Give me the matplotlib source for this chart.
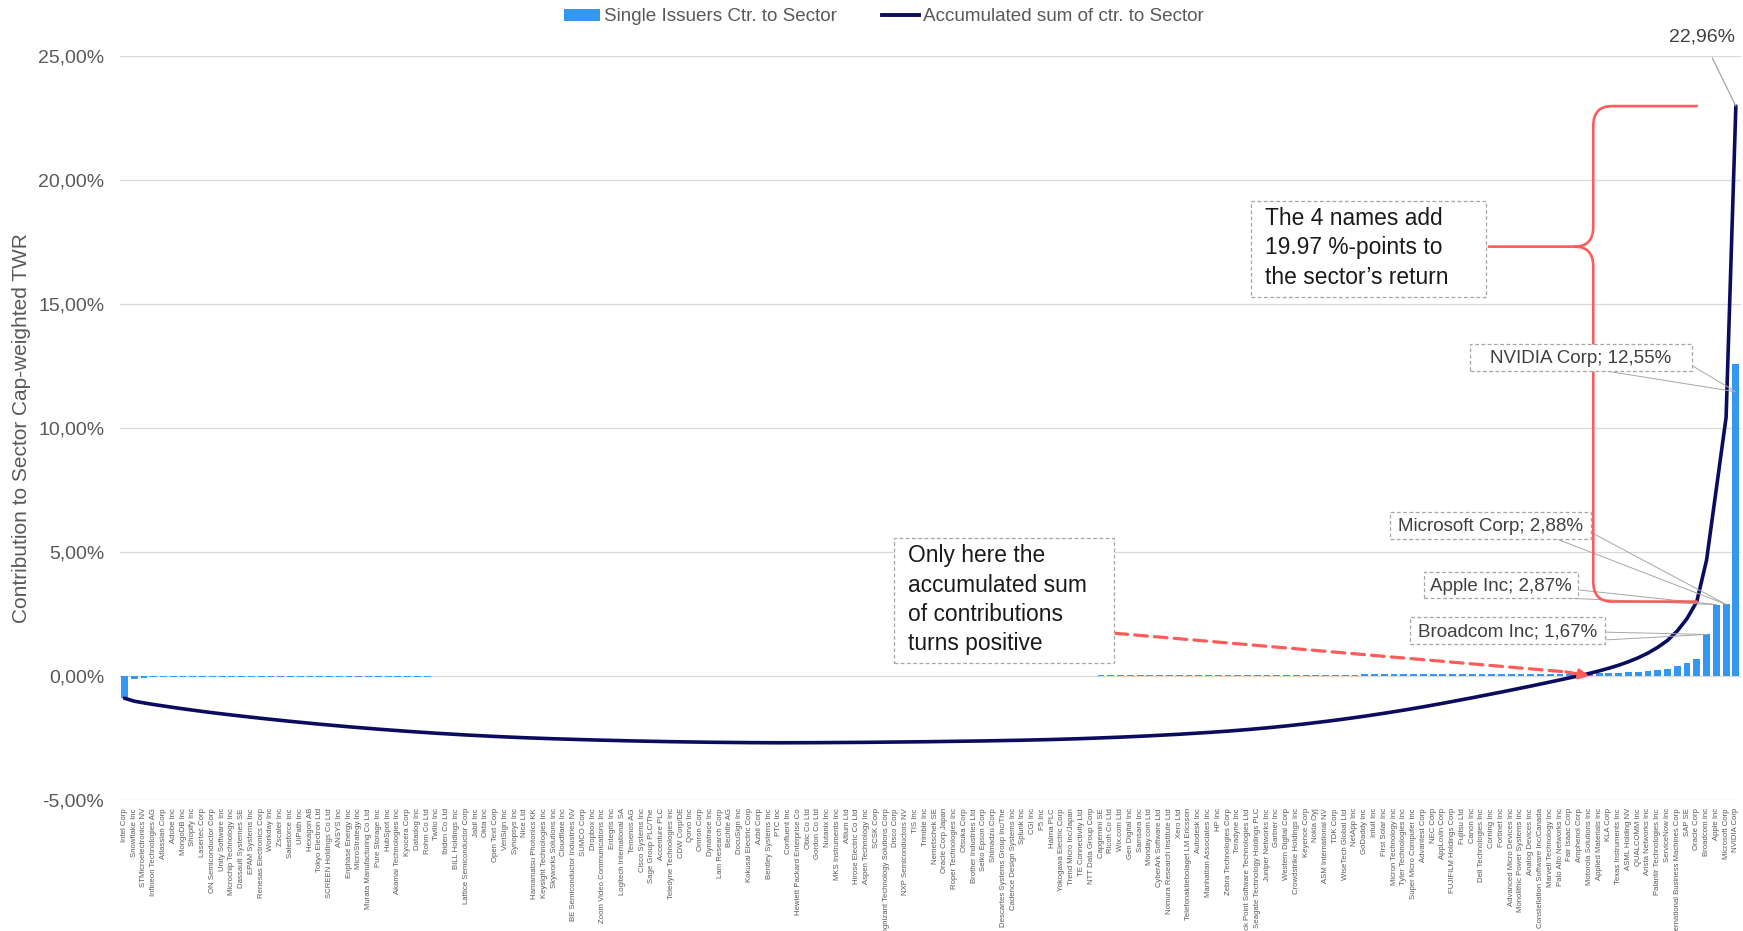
import numpy as np
import matplotlib
matplotlib.use("Agg")
import matplotlib.pyplot as plt
from matplotlib.path import Path
from matplotlib.patches import PathPatch, Patch, Rectangle
from matplotlib.lines import Line2D
from matplotlib.ticker import FuncFormatter

plt.rcParams['font.family'] = ['Liberation Sans', 'DejaVu Sans']

# ---------------- data ----------------
issuers = [
    "Intel Corp", "Snowflake Inc", "STMicroelectronics NV", "Infineon Technologies AG", "Atlassian Corp",
    "Adobe Inc", "MongoDB Inc", "Shopify Inc", "Lasertec Corp", "ON Semiconductor Corp",
    "Unity Software Inc", "Microchip Technology Inc", "Dassault Systemes SE", "EPAM Systems Inc", "Renesas Electronics Corp",
    "Workday Inc", "Zscaler Inc", "Salesforce Inc", "UiPath Inc", "Hexagon AB",
    "Tokyo Electron Ltd", "SCREEN Holdings Co Ltd", "ANSYS Inc", "Enphase Energy Inc", "MicroStrategy Inc",
    "Murata Manufacturing Co Ltd", "Pure Storage Inc", "HubSpot Inc", "Akamai Technologies Inc", "Kyocera Corp",
    "Datadog Inc", "Rohm Co Ltd", "Twilio Inc", "Ibiden Co Ltd", "BILL Holdings Inc",
    "Lattice Semiconductor Corp", "Jabil Inc", "Okta Inc", "Open Text Corp", "VeriSign Inc",
    "Synopsys Inc", "Nice Ltd", "Hamamatsu Photonics KK", "Keysight Technologies Inc", "Skyworks Solutions Inc",
    "Cloudflare Inc", "BE Semiconductor Industries NV", "SUMCO Corp", "Dropbox Inc", "Zoom Video Communications Inc",
    "Entegris Inc", "Logitech International SA", "Temenos AG", "Cisco Systems Inc", "Sage Group PLC/The",
    "Accenture PLC", "Teledyne Technologies Inc", "CDW Corp/DE", "Qorvo Inc", "Omron Corp",
    "Dynatrace Inc", "Lam Research Corp", "Bechtle AG", "DocuSign Inc", "Kokusai Electric Corp",
    "Azbil Corp", "Bentley Systems Inc", "PTC Inc", "Confluent Inc", "Hewlett Packard Enterprise Co",
    "Obic Co Ltd", "Gordon Co Ltd", "Nutanix Inc", "MKS Instruments Inc", "Altium Ltd",
    "Hirose Electric Co Ltd", "Aspen Technology Inc", "SCSK Corp", "Cognizant Technology Solutions Corp", "Disco Corp",
    "NXP Semiconductors NV", "TIS Inc", "Trimble Inc", "Nemetschek SE", "Oracle Corp Japan",
    "Roper Technologies Inc", "Otsuka Corp", "Brother Industries Ltd", "Seiko Epson Corp", "Shimadzu Corp",
    "Descartes Systems Group Inc/The", "Cadence Design Systems Inc", "Splunk Inc", "CGI Inc", "F5 Inc",
    "Halma PLC", "Yokogawa Electric Corp", "Trend Micro Inc/Japan", "TE Connectivity Ltd", "NTT Data Group Corp",
    "Capgemini SE", "Ricoh Co Ltd", "Wix.com Ltd", "Gen Digital Inc", "Samsara Inc",
    "Monday.com Ltd", "CyberArk Software Ltd", "Nomura Research Institute Ltd", "Xero Ltd", "Telefonaktiebolaget LM Ericsson",
    "Autodesk Inc", "Manhattan Associates Inc", "HP Inc", "Zebra Technologies Corp", "Teradyne Inc",
    "Check Point Software Technologies Ltd", "Seagate Technology Holdings PLC", "Juniper Networks Inc", "Gartner Inc", "Western Digital Corp",
    "Crowdstrike Holdings Inc", "Keyence Corp", "Nokia Oyj", "ASM International NV", "TDK Corp",
    "WiseTech Global Ltd", "NetApp Inc", "GoDaddy Inc", "Intuit Inc", "First Solar Inc",
    "Micron Technology Inc", "Tyler Technologies Inc", "Super Micro Computer Inc", "Advantest Corp", "NEC Corp",
    "AppLovin Corp", "FUJIFILM Holdings Corp", "Fujitsu Ltd", "Canon Inc", "Dell Technologies Inc",
    "Corning Inc", "Fortinet Inc", "Advanced Micro Devices Inc", "Monolithic Power Systems Inc", "Analog Devices Inc",
    "Constellation Software Inc/Canada", "Marvell Technology Inc", "Palo Alto Networks Inc", "Fair Isaac Corp", "Amphenol Corp",
    "Motorola Solutions Inc", "Applied Materials Inc", "KLA Corp", "Texas Instruments Inc", "ASML Holding NV",
    "QUALCOMM Inc", "Arista Networks Inc", "Palantir Technologies Inc", "ServiceNow Inc", "International Business Machines Corp",
    "SAP SE", "Oracle Corp", "Broadcom Inc", "Apple Inc", "Microsoft Corp",
    "NVIDIA Corp",
]

# contribution of each issuer to the sector return, in %-points
contrib = [
    -0.900, -0.120, -0.070, -0.065, -0.060,
    -0.058, -0.056, -0.054, -0.052, -0.050,
    -0.048, -0.046, -0.045, -0.044, -0.043,
    -0.042, -0.041, -0.040, -0.039, -0.038,
    -0.037, -0.036, -0.035, -0.034, -0.033,
    -0.032, -0.031, -0.030, -0.029, -0.028,
    -0.027, -0.026, -0.025, -0.024, -0.023,
    -0.022, -0.021, -0.020, -0.019, -0.018,
    -0.017, -0.016, -0.015, -0.014, -0.013,
    -0.0125, -0.012, -0.0115, -0.011, -0.0105,
    -0.010, -0.0095, -0.009, -0.0085, -0.008,
    -0.0075, -0.007, -0.0065, -0.006, -0.0055,
    -0.005, -0.0045, -0.004, -0.0035, -0.003,
    -0.0025, -0.002, -0.0015, 0.0005, 0.001,
    0.0015, 0.002, 0.002, 0.0025, 0.0025,
    0.003, 0.003, 0.0035, 0.0035, 0.004,
    0.004, 0.0045, 0.0045, 0.005, 0.005,
    0.0055, 0.0055, 0.006, 0.006, 0.0065,
    0.007, 0.0075, 0.008, 0.0085, 0.009,
    0.010, 0.011, 0.012, 0.013, 0.014,
    0.0145, 0.015, 0.016, 0.017, 0.018,
    0.019, 0.020, 0.021, 0.022, 0.023,
    0.024, 0.025, 0.026, 0.028, 0.030,
    0.032, 0.034, 0.036, 0.038, 0.040,
    0.042, 0.044, 0.046, 0.048, 0.050,
    0.052, 0.054, 0.056, 0.058, 0.060,
    0.062, 0.064, 0.066, 0.068, 0.070,
    0.072, 0.073, 0.074, 0.075, 0.076,
    0.077, 0.078, 0.079, 0.080, 0.081,
    0.082, 0.083, 0.084, 0.085, 0.087,
    0.090, 0.100, 0.110, 0.120, 0.140,
    0.160, 0.190, 0.230, 0.280, 0.380,
    0.500, 0.685, 1.670, 2.870, 2.880,
    12.550,
]

legend_labels = ["Single Issuers Ctr. to Sector", "Accumulated sum of ctr. to Sector"]
y_label = "Contribution to Sector Cap-weighted TWR"
note_top = "The 4 names add\n19.97 %-points to\nthe sector\u2019s return"
note_bottom = "Only here the\naccumulated sum\nof contributions\nturns positive"

accum = np.cumsum(contrib)
x = np.arange(len(issuers))
n = len(issuers)

BAR_C = "#3598F0"
LINE_C = "#0C0C5E"
TXT_C = "#595959"
RED = "#FF5B5B"
BOX_EC = "#A6A6A6"


def F(px, py):
    """reference-image pixel (1568x838 view) -> figure fraction"""
    return (px / 1568.0, 1.0 - py / 838.0)


def pct(v):
    return f"{v:.2f}%".replace(".", ",")


fig = plt.figure(figsize=(17.43, 9.31), dpi=100)
ax = fig.add_axes([0.0686, 0.1408, 0.9301, 0.7995])


def fig_box(x0, y0, x1, y1):
    (fx0, fy1), (fx1, fy0) = F(x0, y0), F(x1, y1)
    fig.patches.append(Rectangle((fx0, fy0), fx1 - fx0, fy1 - fy0, transform=fig.transFigure,
                                 fc="white", ec=BOX_EC, ls=(0, (3, 2)), lw=0.9, zorder=2))


ax.bar(x, contrib, width=0.7, color=BAR_C, zorder=2)
ax.plot(x, accum, color=LINE_C, lw=2.6, solid_joinstyle="round", solid_capstyle="round", zorder=3)

ax.set_xlim(-0.5, n - 0.5)
ax.set_ylim(-5, 25)
ax.set_yticks(np.arange(-5, 26, 5))
ax.yaxis.set_major_formatter(FuncFormatter(lambda v, p: pct(v)))
ax.set_xticks(x)
ax.set_xticklabels(issuers, rotation=90, fontsize=5.6, color=TXT_C, va="top", ha="center")
ax.tick_params(axis="x", length=0, pad=6)
ax.tick_params(axis="y", length=0, pad=11, labelsize=14, labelcolor=TXT_C)
for s in ax.spines.values():
    s.set_visible(False)
ax.yaxis.grid(True, color="#D9D9D9", lw=0.9, zorder=0)
ax.set_axisbelow(True)

fig.text(*F(19, 385), y_label, rotation=90, ha="center", va="center", fontsize=15, color=TXT_C)

# legend
handles = [Patch(facecolor=BAR_C, edgecolor="none"), Line2D([], [], color=LINE_C, lw=2.8)]
fig.legend(handles, legend_labels, loc="center", bbox_to_anchor=F(795, 15), ncol=2, frameon=False,
           fontsize=13.6, labelcolor=TXT_C, handlelength=1.95, handleheight=0.6, handletextpad=0.2,
           columnspacing=2.4)

# total label
ax.annotate(pct(accum[-1]), xy=(n - 1, accum[-1]), xytext=F(1531, 33), textcoords="figure fraction",
            ha="center", va="center", fontsize=14, color="#404040",
            arrowprops=dict(arrowstyle="-", color=BOX_EC, lw=0.9, shrinkA=8, shrinkB=0))

# data labels of the top 4 names: box (x0, y0, x1, y1), two leader starts, leader end offset
labels = [
    (n - 1, (1322, 310, 1522, 334), [(1445, 334), (1522, 329)], -1.1),
    (n - 2, (1250, 461, 1431, 485), [(1400, 485), (1431, 479)], 0.0),
    (n - 3, (1281, 515, 1420, 538), [(1400, 538), (1420, 531)], 0.0),
    (n - 4, (1268, 555, 1444, 580), [(1444, 569), (1444, 576)], 0.0),
]
for i, (x0, y0, x1, y1), starts, off in labels:
    for sx, sy in starts:
        ax.annotate("", xy=(i, contrib[i] + off), xytext=F(sx, sy), textcoords="figure fraction",
                    arrowprops=dict(arrowstyle="-", color=BOX_EC, lw=0.7, shrinkA=0, shrinkB=0))
    fig_box(x0, y0, x1, y1)
    fig.text(*F((x0 + x1) / 2, (y0 + y1) / 2 + 1), f"{issuers[i]}; {pct(contrib[i])}", ha="center", va="center",
             fontsize=13.5, color="#404040", zorder=3)

# note boxes
fig_box(1125, 181, 1337, 267)
fig.text(*F(1138, 223), note_top, ha="left", va="center", fontsize=16.4, color="#1a1a1a",
         linespacing=1.35, zorder=3)
fig_box(804, 484, 1002, 597)
fig.text(*F(817, 540), note_bottom, ha="left", va="center", fontsize=16.4, color="#1a1a1a",
         linespacing=1.35, zorder=3)

# red dashed arrow to where the accumulated sum turns positive
cross = int(np.argmax(accum > 0)) + 1.0
ax.annotate("", xy=(cross - 2.4, 0.16), xytext=F(1003, 570), textcoords="figure fraction",
            arrowprops=dict(arrowstyle="-", color=RED, lw=2.3, ls=(0, (4, 2.2)), shrinkA=0, shrinkB=0))
ax.annotate("", xy=(cross, 0.0), xytext=(cross - 2.4, 0.16),
            arrowprops=dict(arrowstyle="-|>", color=RED, lw=2.3, mutation_scale=14, shrinkA=0, shrinkB=0))

# brace spanning the top-4 contribution
top = accum[-1]
bot = accum[-5]
bx = 150.4
rx = 161.0
tipx = 139.7
tipy = 17.3
dx, dy = 1.9, 0.8
verts = [(rx, top), (bx + dx, top), (bx, top), (bx, top - dy), (bx, tipy + dy), (bx, tipy), (bx - dx, tipy),
         (tipx, tipy)]
codes = [Path.MOVETO, Path.LINETO, Path.CURVE3, Path.CURVE3, Path.LINETO, Path.CURVE3, Path.CURVE3, Path.LINETO]
ax.add_patch(PathPatch(Path(verts, codes), fill=False, ec=RED, lw=1.9, zorder=4, capstyle="round"))
verts2 = [(bx - dx, tipy), (bx, tipy), (bx, tipy - dy), (bx, bot + dy), (bx, bot), (bx + dx, bot), (rx, bot)]
codes2 = [Path.MOVETO, Path.CURVE3, Path.CURVE3, Path.LINETO, Path.CURVE3, Path.CURVE3, Path.LINETO]
ax.add_patch(PathPatch(Path(verts2, codes2), fill=False, ec=RED, lw=1.9, zorder=4, capstyle="round"))

fig.savefig("out.png", dpi=100)
